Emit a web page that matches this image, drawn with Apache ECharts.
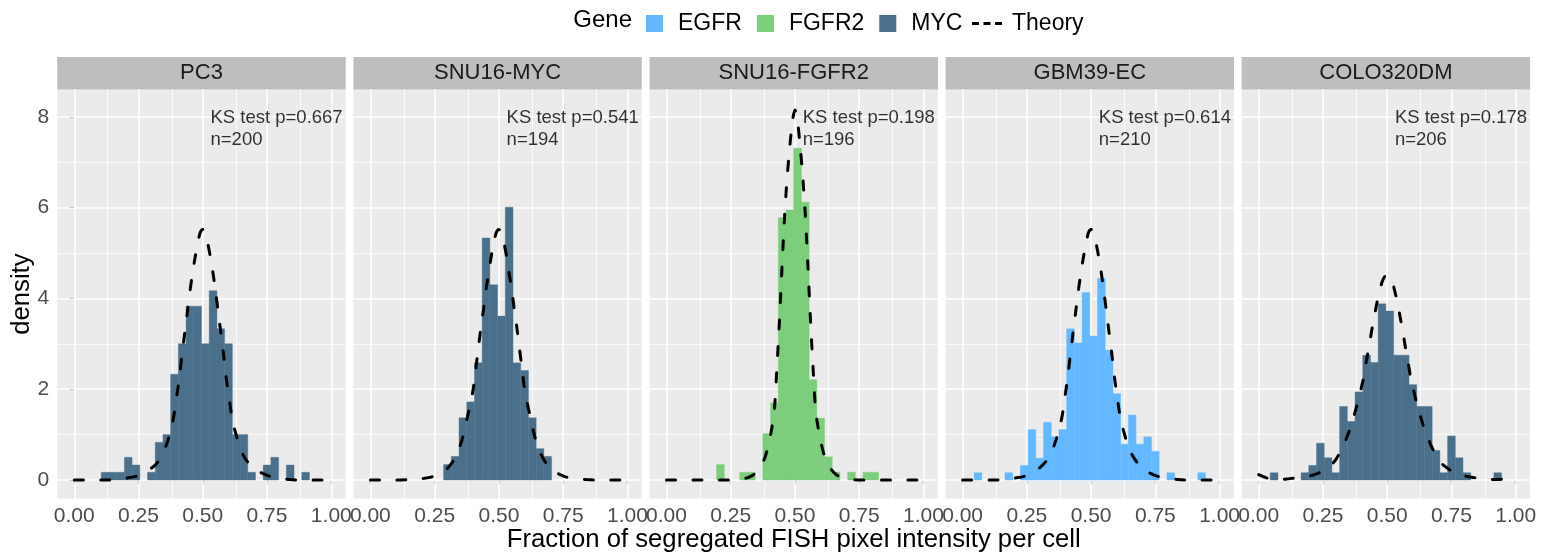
<!DOCTYPE html>
<html>
<head>
<meta charset="utf-8">
<script src="https://cdn.jsdelivr.net/npm/echarts@6/dist/echarts.min.js"></script>
<style>
  html, body { margin: 0; padding: 0; background: #fff; }
  #chart { width: 1554px; height: 555px; }
</style>
</head>
<body>
<div id="chart"></div>
<script>
// facets
const panels = ['PC3', 'SNU16-MYC', 'SNU16-FGFR2', 'GBM39-EC', 'COLO320DM'];
const panelGene = ['MYC', 'MYC', 'FGFR2', 'EGFR', 'MYC'];
const ksP = ['0.667', '0.541', '0.198', '0.614', '0.178'];
const cellN = [200, 194, 196, 210, 206];
const geneColors = { EGFR: '#63B8FF', FGFR2: '#7CCD7C', MYC: '#4A708B' };

// histogram bins (width 0.03, centred on multiples of 0.03)
const binWidth = 0.03;
const binMids = [0, 0.03, 0.06, 0.09, 0.12, 0.15, 0.18, 0.21, 0.24, 0.27, 0.3, 0.33, 0.36, 0.39, 0.42, 0.45, 0.48,
  0.51, 0.54, 0.57, 0.6, 0.63, 0.66, 0.69, 0.72, 0.75, 0.78, 0.81, 0.84, 0.87, 0.9, 0.93, 0.96, 0.99];

// density of each bin
const densPC3 = [0, 0, 0, 0, 0.17, 0.17, 0.17, 0.5, 0.33, 0, 0.17, 0.83, 1, 2.33, 3, 3.83, 3.83,
  3, 4.17, 3.33, 3, 1, 1, 0.17, 0, 0.33, 0.5, 0, 0.33, 0, 0.17, 0, 0, 0];
const densSnuMyc = [0, 0, 0, 0, 0, 0, 0, 0, 0, 0, 0.34, 0.52, 1.37, 1.72, 2.58, 5.33, 4.3,
  3.61, 6.01, 2.58, 2.41, 1.37, 0.69, 0.52, 0, 0, 0, 0, 0, 0, 0, 0, 0, 0];
const densSnuFgfr2 = [0, 0, 0, 0, 0, 0, 0, 0.34, 0, 0, 0.17, 0.17, 0, 1.02, 1.7, 5.78, 5.95,
  7.31, 6.12, 2.21, 1.36, 0.51, 0.17, 0, 0.17, 0, 0.17, 0.17, 0, 0, 0, 0, 0, 0];
const densGbm39 = [0, 0, 0.16, 0, 0, 0, 0.16, 0, 0.32, 1.11, 0.48, 1.27, 0.95, 1.11, 3.33, 3.02, 4.13,
  3.17, 4.44, 2.86, 1.9, 0.79, 1.43, 0.79, 0.95, 0.63, 0, 0.16, 0, 0, 0, 0.16, 0, 0];
const densColo = [0, 0, 0.16, 0, 0, 0, 0.16, 0.32, 0.81, 0.49, 0.16, 1.62, 1.29, 1.94, 2.75, 2.59, 3.88,
  3.72, 2.75, 2.75, 2.1, 1.62, 1.62, 0.65, 0.16, 0.97, 0.49, 0.16, 0, 0, 0, 0.16, 0, 0];
const panelDens = [densPC3, densSnuMyc, densSnuFgfr2, densGbm39, densColo];

// theory curve
const theoryX = [0, 0.04, 0.08, 0.12, 0.16, 0.2, 0.24, 0.28, 0.3, 0.32, 0.34, 0.36, 0.38, 0.39, 0.4, 0.41,
  0.42, 0.43, 0.44, 0.45, 0.46, 0.47, 0.48, 0.49, 0.5, 0.51, 0.52, 0.53, 0.54, 0.55, 0.56, 0.57, 0.58,
  0.59, 0.6, 0.61, 0.62, 0.64, 0.66, 0.68, 0.7, 0.72, 0.76, 0.8, 0.84, 0.88, 0.92, 0.96, 1];
const theoryPC3 = [0, 0, 0, 0, 0.01, 0.04, 0.08, 0.18, 0.26, 0.36, 0.52, 0.8, 1.2, 1.5, 1.9, 2.3,
  2.8, 3.25, 3.7, 4.15, 4.55, 4.9, 5.2, 5.45, 5.52, 5.45, 5.2, 4.9, 4.55, 4.15, 3.7, 3.25, 2.8,
  2.3, 1.9, 1.5, 1.2, 0.8, 0.52, 0.36, 0.26, 0.18, 0.08, 0.04, 0.01, 0, 0, 0, 0];
const theorySnuMyc = [0, 0, 0, 0, 0.01, 0.03, 0.07, 0.17, 0.26, 0.4, 0.62, 0.95, 1.45, 1.7, 2, 2.45,
  2.9, 3.35, 3.75, 4.2, 4.55, 4.92, 5.22, 5.45, 5.52, 5.45, 5.22, 4.92, 4.55, 4.2, 3.75, 3.35, 2.9,
  2.45, 2, 1.7, 1.45, 0.95, 0.62, 0.4, 0.26, 0.17, 0.07, 0.03, 0.01, 0, 0, 0, 0];
const theorySnuFgfr2 = [0, 0, 0, 0, 0, 0, 0, 0.01, 0.03, 0.06, 0.12, 0.24, 0.45, 0.62, 0.85, 1.15,
  1.55, 2.5, 3.55, 4.75, 5.85, 6.7, 7.35, 7.9, 8.15, 7.9, 7.35, 6.7, 5.85, 4.75, 3.55, 2.5, 1.55,
  1.15, 0.85, 0.62, 0.45, 0.24, 0.12, 0.06, 0.03, 0.01, 0, 0, 0, 0, 0, 0, 0];
const theoryGbm39 = [0, 0, 0, 0, 0.01, 0.04, 0.08, 0.18, 0.27, 0.38, 0.55, 0.82, 1.22, 1.5, 1.9, 2.3,
  2.8, 3.25, 3.7, 4.15, 4.55, 4.9, 5.2, 5.45, 5.52, 5.45, 5.2, 4.9, 4.55, 4.15, 3.7, 3.25, 2.8,
  2.3, 1.9, 1.5, 1.22, 0.82, 0.55, 0.38, 0.27, 0.18, 0.08, 0.04, 0.01, 0, 0, 0, 0];
const theoryColo = [0.12, 0.03, 0.01, 0.03, 0.05, 0.09, 0.17, 0.32, 0.45, 0.65, 0.9, 1.2, 1.6, 1.8, 2.05, 2.3,
  2.65, 2.95, 3.3, 3.6, 3.9, 4.15, 4.36, 4.48, 4.52, 4.48, 4.36, 4.15, 3.9, 3.6, 3.3, 2.95, 2.65,
  2.3, 2.05, 1.8, 1.6, 1.2, 0.9, 0.65, 0.45, 0.32, 0.17, 0.09, 0.05, 0.03, 0.01, 0.03, 0.12];
const panelTheory = [theoryPC3, theorySnuMyc, theorySnuFgfr2, theoryGbm39, theoryColo];

// axis ticks
const xMajor = [0, 0.25, 0.5, 0.75, 1];
const xMinor = [0.125, 0.375, 0.625, 0.875];
const yMajor = [0, 2, 4, 6, 8];
const yMinor = [1, 3, 5, 7];
const annotX = 0.53;
const annotY = 7.73;

// layout
const gridLeft0 = 57.3;
const gridStep = 296.1;
const gridW = 288.4;
const gridTop = 89.6;
const gridH = 409;
const stripH = 32.6;
const FONT = '"Liberation Sans", Arial, Helvetica, sans-serif';

const chart = echarts.init(document.getElementById('chart'));

const grids = [];
const xAxes = [];
const yAxes = [];
const series = [];
const graphics = [];

function renderBar(params, api) {
  const top = api.coord([api.value(0), api.value(2)]);
  const bottom = api.coord([api.value(1), 0]);
  return {
    type: 'rect',
    shape: { x: top[0], y: top[1], width: bottom[0] - top[0], height: bottom[1] - top[1] },
    style: { fill: api.visual('color'), stroke: api.visual('color'), lineWidth: 0.4 },
  };
}

panels.forEach((name, i) => {
  const left = gridLeft0 + i * gridStep;
  grids.push({
    left: left, top: gridTop, width: gridW, height: gridH,
    show: true, backgroundColor: '#EBEBEB', borderWidth: 0,
  });
  xAxes.push({
    type: 'value', gridIndex: i, min: -0.066, max: 1.056,
    axisLine: { show: false },
    splitLine: { show: false },
    axisTick: { show: true, customValues: xMajor, length: 4.5, lineStyle: { color: '#333333', width: 1.1 } },
    axisLabel: {
      customValues: xMajor, color: '#4D4D4D', fontSize: 21, fontFamily: FONT, margin: 7,
      formatter: (v) => v.toFixed(2),
    },
  });
  yAxes.push({
    type: 'value', gridIndex: i, min: -0.41, max: 8.6,
    axisLine: { show: false },
    splitLine: { show: false },
    axisTick: { show: i === 0, customValues: yMajor, length: 4.5, lineStyle: { color: '#333333', width: 1.1 } },
    axisLabel: {
      show: i === 0, customValues: yMajor, color: '#4D4D4D', fontSize: 21, fontFamily: FONT, margin: 8,
    },
  });

  // panel grid lines (drawn under the bars)
  const gridLines = [];
  xMajor.forEach((v) => gridLines.push({ xAxis: v, lineStyle: { color: '#fff', width: 1.6, type: 'solid' } }));
  xMinor.forEach((v) => gridLines.push({ xAxis: v, lineStyle: { color: '#fff', width: 0.8, type: 'solid' } }));
  yMajor.forEach((v) => gridLines.push({ yAxis: v, lineStyle: { color: '#fff', width: 1.6, type: 'solid' } }));
  yMinor.forEach((v) => gridLines.push({ yAxis: v, lineStyle: { color: '#fff', width: 0.8, type: 'solid' } }));
  series.push({
    type: 'line', name: 'grid' + i, xAxisIndex: i, yAxisIndex: i, data: [], z: 1,
    silent: true, legendHoverLink: false,
    markLine: { z: 1, silent: true, symbol: ['none', 'none'], label: { show: false }, animation: false, data: gridLines },
  });

  // histogram
  const gene = panelGene[i];
  const dens = panelDens[i];
  series.push({
    type: 'custom', name: gene, xAxisIndex: i, yAxisIndex: i, z: 2,
    itemStyle: { color: geneColors[gene] },
    renderItem: renderBar,
    encode: { x: [0, 1], y: 2 },
    data: binMids.map((m, k) => [m - binWidth / 2, m + binWidth / 2, dens[k]]).filter((d) => d[2] > 0),
  });

  // theory curve
  const th = panelTheory[i];
  series.push({
    type: 'line', name: 'Theory', xAxisIndex: i, yAxisIndex: i, z: 3,
    smooth: 0.3, symbol: 'none', showSymbol: false,
    lineStyle: { color: '#000', width: 3, type: [9, 17.5], cap: 'round' },
    itemStyle: { color: '#000' },
    data: theoryX.map((x, k) => [x, th[k]]),
  });

  // KS annotation
  series.push({
    type: 'scatter', name: 'ks' + i, xAxisIndex: i, yAxisIndex: i, z: 4,
    symbolSize: 0, silent: true,
    data: [[annotX, annotY]],
    label: {
      show: true, position: 'right', distance: 0, align: 'left',
      formatter: 'KS test p=' + ksP[i] + '\nn=' + cellN[i],
      color: '#000', fontSize: 18.5, lineHeight: 22, fontFamily: FONT,
    },
  });

  // facet strip
  graphics.push({
    type: 'rect', left: left, top: gridTop - stripH, silent: true,
    shape: { width: gridW, height: stripH },
    style: { fill: '#BEBEBE' },
  });
  graphics.push({
    type: 'text', x: left + gridW / 2, y: gridTop - stripH / 2, silent: true,
    style: { text: name, align: 'center', verticalAlign: 'middle', fill: '#1A1A1A', font: '22px ' + FONT },
  });
});

// axis titles and legend title
graphics.push({
  type: 'text', x: gridLeft0 + (4 * gridStep + gridW) / 2, y: 540, silent: true,
  style: { text: 'Fraction of segregated FISH pixel intensity per cell', align: 'center', verticalAlign: 'middle', fill: '#000', font: '25.7px ' + FONT },
});
graphics.push({
  type: 'text', x: 22, y: gridTop + gridH / 2, rotation: Math.PI / 2, silent: true,
  style: { text: 'density', align: 'center', verticalAlign: 'middle', fill: '#000', font: '25.7px ' + FONT },
});
graphics.push({
  type: 'text', x: 632, y: 20, silent: true,
  style: { text: 'Gene', align: 'right', verticalAlign: 'middle', fill: '#000', font: '24px ' + FONT },
});

const option = {
  animation: false,
  backgroundColor: '#fff',
  grid: grids,
  xAxis: xAxes,
  yAxis: yAxes,
  legend: [
    {
      left: 641, top: 7, itemWidth: 17, itemHeight: 17, itemGap: 15,
      selectedMode: false,
      textStyle: { color: '#000', fontSize: 23, fontFamily: FONT, padding: [0, 0, 0, 10] },
      data: [
        { name: 'EGFR', icon: 'rect' },
        { name: 'FGFR2', icon: 'rect' },
        { name: 'MYC', icon: 'rect' },
      ],
    },
    {
      left: 967, top: 7, itemWidth: 30, itemHeight: 3,
      selectedMode: false,
      textStyle: { color: '#000', fontSize: 23, fontFamily: FONT, padding: [0, 0, 0, 5] },
      data: [{
        name: 'Theory',
        icon: 'path://M0,0h7v3h-7z M11.5,0h7v3h-7z M23,0h7v3h-7z',
        itemStyle: { color: '#000' },
      }],
    },
  ],
  graphic: graphics,
  series: series,
};

chart.setOption(option);
</script>
</body>
</html>
